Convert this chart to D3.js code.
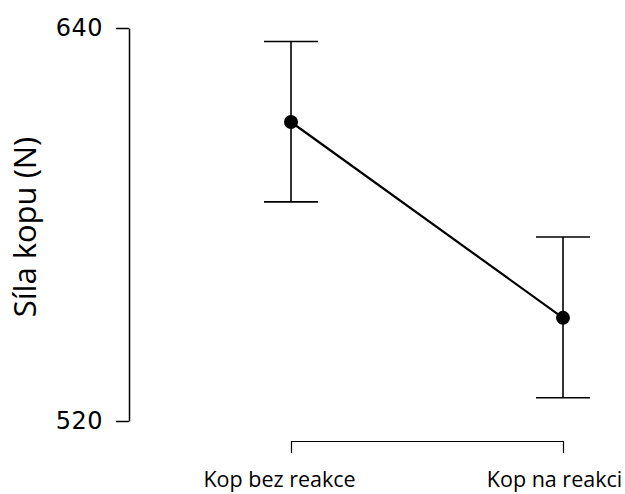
<!DOCTYPE html>
<html>
<head>
<meta charset="utf-8">
<script src="https://cdnjs.cloudflare.com/ajax/libs/d3/7.8.5/d3.min.js"></script>
<style>
  body { margin: 0; background: #fff; }
  svg { display: block; }
</style>
</head>
<body>
<svg width="625" height="494"></svg>
<script>
// data
var conditions = ["Kop bez reakce", "Kop na reakci"];
var means = [611.3, 551.5];
var lower = [586.9, 527.1];
var upper = [635.9, 576.2];
var yTicks = [520, 640];

var svg = d3.select("svg");

var x = d3.scalePoint()
    .domain(conditions)
    .range([291, 563]);

var y = d3.scaleLinear()
    .domain([520, 640])
    .range([421, 28]);

// y axis
var yAxis = svg.append("g")
    .attr("transform", "translate(129,0)")
    .call(d3.axisLeft(y).tickValues(yTicks).tickSize(13).tickSizeOuter(0).tickPadding(13).tickFormat(d3.format("d")));
yAxis.select(".domain").attr("stroke-width", 1.5);
yAxis.selectAll(".tick line").attr("stroke-width", 1.5);
yAxis.selectAll(".tick text")
    .attr("font-family", "DejaVu Sans")
    .attr("font-size", 24)
    .attr("letter-spacing", 0.5)
    .attr("fill", "#000");

svg.append("text")
    .attr("transform", "translate(36,227) rotate(-90)")
    .attr("text-anchor", "middle")
    .attr("font-family", "Open Sans")
    .attr("font-size", 31)
    .text("Síla kopu (N)");

// x axis (bracket)
var xAxis = svg.append("g")
    .attr("transform", "translate(0,441)")
    .call(d3.axisBottom(x).tickSize(0).tickSizeOuter(12).tickPadding(31));
xAxis.select(".domain").attr("stroke-width", 1.2);
xAxis.selectAll(".tick text")
    .attr("font-family", "Open Sans")
    .attr("font-size", 21.5)
    .attr("fill", "#000")
    .attr("dy", "0.72em")
    .attr("dx", function(d, i) { return i === 0 ? -12 : -9; });

// mean line
svg.append("path")
    .datum(conditions)
    .attr("fill", "none")
    .attr("stroke", "#000")
    .attr("stroke-width", 2.2)
    .attr("d", d3.line()
        .x(function(d) { return x(d); })
        .y(function(d, i) { return y(means[i]); }));

// error bars
var bars = svg.append("g").selectAll("g")
    .data(conditions)
    .enter().append("g")
    .attr("stroke", "#000")
    .attr("stroke-width", 1.6);

bars.append("line")
    .attr("x1", function(d) { return x(d); })
    .attr("x2", function(d) { return x(d); })
    .attr("y1", function(d, i) { return y(upper[i]); })
    .attr("y2", function(d, i) { return y(lower[i]); });

bars.append("line")
    .attr("x1", function(d) { return x(d) - 27; })
    .attr("x2", function(d) { return x(d) + 27; })
    .attr("y1", function(d, i) { return y(upper[i]); })
    .attr("y2", function(d, i) { return y(upper[i]); });

bars.append("line")
    .attr("x1", function(d) { return x(d) - 27; })
    .attr("x2", function(d) { return x(d) + 27; })
    .attr("y1", function(d, i) { return y(lower[i]); })
    .attr("y2", function(d, i) { return y(lower[i]); });

// points
svg.append("g").selectAll("circle")
    .data(conditions)
    .enter().append("circle")
    .attr("cx", function(d) { return x(d); })
    .attr("cy", function(d, i) { return y(means[i]); })
    .attr("r", 7)
    .attr("fill", "#000");
</script>
</body>
</html>
